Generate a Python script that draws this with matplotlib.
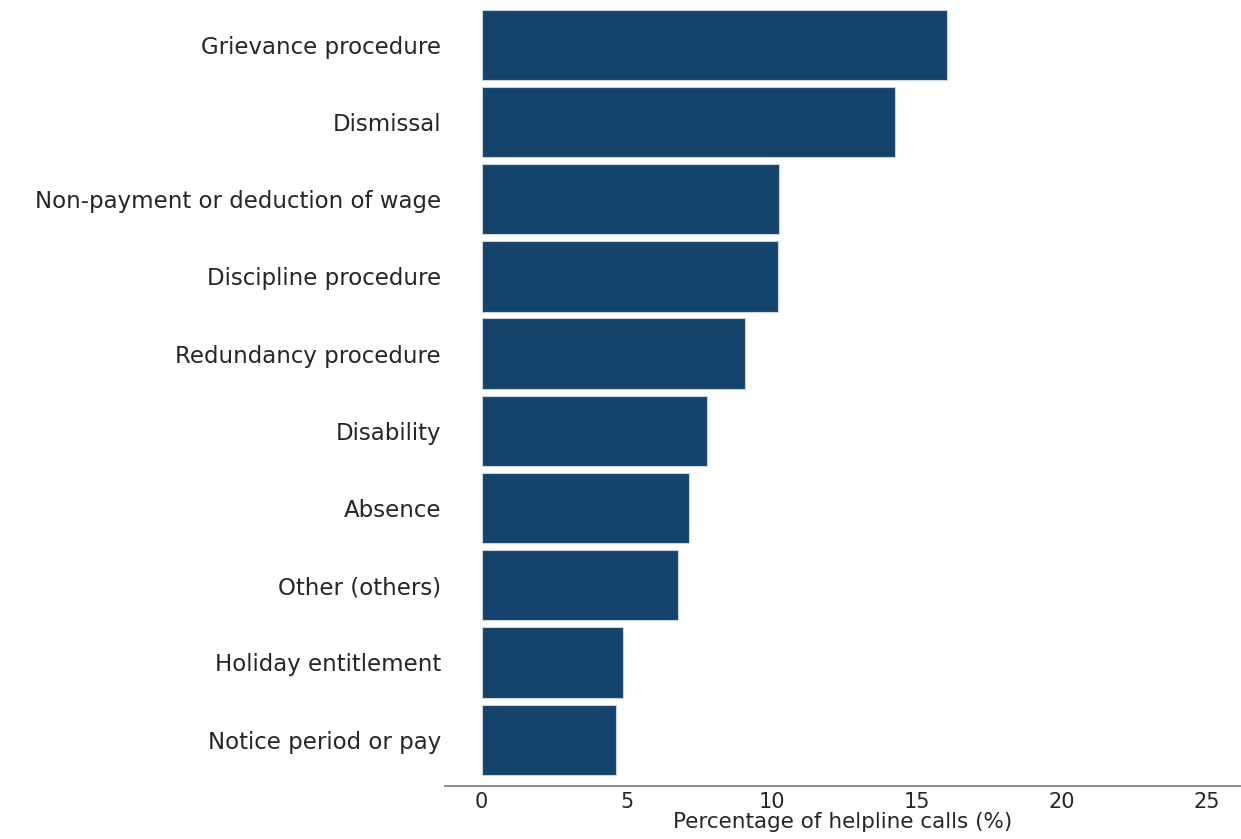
import numpy as np
import matplotlib
matplotlib.use("Agg")
import matplotlib.pyplot as plt

matplotlib.rcParams.update({'font.size': 15, 'font.family': ['DejaVu Sans']})

categories = ["Grievance procedure", "Dismissal", "Non-payment or deduction of wage",
              "Discipline procedure", "Redundancy procedure", "Disability", "Absence",
              "Other (others)", "Holiday entitlement", "Notice period or pay"]
values = [16.05, 14.24, 10.26, 10.21, 9.09, 7.79, 7.16, 6.78, 4.86, 4.64]
xticks = [0, 5, 10, 15, 20, 25]

fig = plt.figure(figsize=(12.41, 8.39), dpi=100)
ax = fig.add_axes([445 / 1241, 1 - 786 / 839, 795 / 1241, 786 / 839])

ypos = np.arange(len(categories))[::-1]
ax.barh(ypos, values, height=0.91, color="#14436b", edgecolor="#c9d3dd", linewidth=0.8)

ax.set_yticks(ypos)
ax.set_yticklabels(categories, color="#262626", fontsize=16.5)
ax.set_xticks(xticks)
ax.set_xticklabels([str(t) for t in xticks], color="#262626")
ax.tick_params(axis="both", length=0)
ax.tick_params(axis="y", pad=3)
ax.tick_params(axis="x", pad=4)
ax.set_xlim(-1.26, 26.15)
ax.set_ylim(-0.6, 9.58)
for s in ["top", "right", "left"]:
    ax.spines[s].set_visible(False)
ax.spines["bottom"].set_color("#808080")
ax.spines["bottom"].set_linewidth(1.3)
ax.set_xlabel("Percentage of helpline calls (%)", color="#262626", fontsize=15.5, labelpad=0)

fig.savefig("out.png", dpi=100)
